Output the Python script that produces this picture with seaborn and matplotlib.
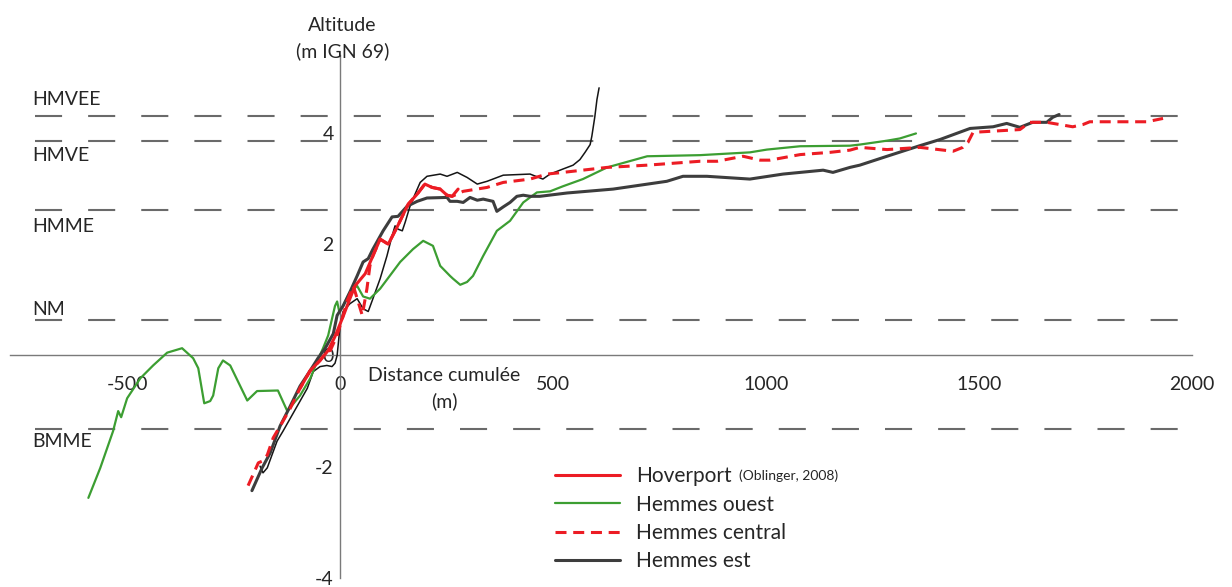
import numpy as np
import pandas as pd
import seaborn as sns
import matplotlib.pyplot as plt
from matplotlib.lines import Line2D

# Reference tide levels (m IGN 69)
level_names = ["HMVEE", "HMVE", "HMME", "NM", "BMME"]
level_values = [4.31, 3.86, 2.62, 0.63, -1.33]
# where each level name sits (above / below its line)
level_label_y = [4.60, 3.60, 2.31, 0.82, -1.54]

x_ticks = [-500, 0, 500, 1000, 1500, 2000]
y_ticks = [-4, -2, 0, 2, 4]

# Hoverport (Oblinger, 2008)
x_hov = [-94, -70, -47, -28, -12, 7, 23, 35, 59, 77, 94, 113, 134, 160, 181, 199, 216, 235, 251, 263, 277]
y_hov = [-0.59, -0.27, -0.09, 0.09, 0.34, 0.70, 1.02, 1.25, 1.47, 1.79, 2.09, 2.00, 2.31, 2.72, 2.90, 3.08,
         3.02, 2.99, 2.88, 2.86, 2.99]

# Hemmes ouest
x_ouest = [-591, -563, -533, -521, -514, -500, -469, -439, -406, -371, -345, -333, -319, -305, -298, -286,
           -275, -258, -218, -195, -146, -124, -94, -70, -54, -40, -28, -19, -12, -7, -2, 7, 23, 40, 54, 70,
           94, 141, 171, 195, 218, 235, 258, 265, 282, 298, 312, 336, 368, 399, 430, 462, 493, 523, 570, 627,
           721, 845, 962, 1002, 1080, 1197, 1220, 1284, 1314, 1352]
y_ouest = [-2.56, -2.02, -1.36, -1.00, -1.11, -0.77, -0.41, -0.18, 0.05, 0.13, -0.05, -0.23, -0.86, -0.82,
           -0.72, -0.23, -0.09, -0.18, -0.81, -0.64, -0.63, -1.00, -0.72, -0.41, -0.11, 0.13, 0.36, 0.66,
           0.89, 0.97, 0.79, 0.89, 1.14, 1.25, 1.06, 1.02, 1.20, 1.68, 1.91, 2.06, 1.97, 1.61, 1.43, 1.38,
           1.27, 1.32, 1.43, 1.79, 2.24, 2.42, 2.75, 2.93, 2.95, 3.04, 3.17, 3.38, 3.58, 3.60, 3.65, 3.70,
           3.76, 3.77, 3.79, 3.86, 3.90, 3.99]

# Hemmes central
x_central = [-216, -192, -183, -171, -157, -134, -117, -94, -70, -47, -31, -23, -7, 5, 16, 31, 52, 63, 70, 77,
             94, 113, 134, 160, 181, 199, 216, 235, 251, 263, 289, 345, 383, 446, 486, 523, 627, 721, 845, 885,
             946, 986, 1009, 1080, 1150, 1197, 1220, 1284, 1361, 1439, 1462, 1474, 1486, 1596, 1619, 1659,
             1720, 1744, 1760, 1894, 1932]
y_central = [-2.34, -1.93, -1.90, -1.79, -1.48, -1.18, -0.95, -0.59, -0.27, -0.09, 0.07, 0.09, 0.36, 0.66,
             0.97, 1.25, 0.72, 1.20, 1.61, 1.79, 2.09, 2.00, 2.31, 2.72, 2.90, 3.08, 3.02, 2.99, 2.88, 2.86,
             2.95, 3.02, 3.11, 3.17, 3.26, 3.29, 3.38, 3.42, 3.49, 3.49, 3.58, 3.51, 3.51, 3.61, 3.65, 3.69,
             3.74, 3.70, 3.74, 3.67, 3.74, 3.83, 4.01, 4.06, 4.19, 4.19, 4.11, 4.15, 4.20, 4.20, 4.26]

# Hemmes est
x_est = [-207, -183, -164, -141, -117, -94, -70, -52, -35, -16, -7, 7, 23, 40, 54, 66, 77, 101, 122, 136,
         157, 181, 204, 251, 258, 275, 289, 305, 322, 336, 359, 368, 383, 399, 415, 430, 446, 469, 533, 641,
         767, 805, 861, 962, 1040, 1134, 1157, 1197, 1220, 1284, 1361, 1408, 1479, 1533, 1565, 1596, 1626,
         1659, 1673, 1688]
y_est = [-2.43, -2.02, -1.75, -1.27, -0.91, -0.55, -0.27, -0.05, 0.13, 0.39, 0.72, 0.89, 1.14, 1.43, 1.68,
         1.74, 1.91, 2.24, 2.49, 2.50, 2.68, 2.77, 2.83, 2.84, 2.77, 2.77, 2.75, 2.84, 2.79, 2.81, 2.77, 2.59,
         2.67, 2.75, 2.86, 2.88, 2.86, 2.86, 2.92, 2.99, 3.13, 3.22, 3.22, 3.17, 3.26, 3.33, 3.29, 3.38, 3.42,
         3.58, 3.77, 3.88, 4.08, 4.11, 4.17, 4.10, 4.19, 4.19, 4.28, 4.33]

# extra thin black profile (not in the legend)
x_thin = [-188, -181, -171, -160, -148, -134, -117, -94, -77, -63, -47, -31, -19, -12, -7, 0, 7, 23, 40, 54,
          66, 77, 94, 110, 122, 129, 136, 146, 153, 164, 176, 188, 204, 235, 251, 275, 298, 322, 345, 383,
          446, 476, 493, 523, 547, 563, 575, 587, 591, 598, 603, 608]
y_thin = [-1.99, -2.11, -2.02, -1.79, -1.54, -1.36, -1.13, -0.82, -0.59, -0.29, -0.20, -0.18, -0.20, -0.14,
          0.00, 0.54, 0.79, 0.93, 1.02, 0.84, 0.79, 1.02, 1.38, 1.79, 2.15, 2.33, 2.27, 2.24, 2.40, 2.68,
          2.90, 3.11, 3.22, 3.26, 3.22, 3.29, 3.20, 3.08, 3.13, 3.24, 3.26, 3.17, 3.26, 3.35, 3.42, 3.52,
          3.65, 3.79, 3.94, 4.29, 4.60, 4.81]

sns.set_style("white")
plt.rcParams['font.family'] = ['Lato', 'DejaVu Sans']
plt.rcParams['axes.unicode_minus'] = False

fig = plt.figure(figsize=(12.32, 5.87), dpi=100)
ax = fig.add_axes([10 / 1232, 9 / 587, 1182 / 1232, 523 / 587])

# dashed reference levels
ax.hlines(level_values, -716, 1975, colors='#6a6a6a', lw=1.5, linestyles=(0, (13, 12.5)), zorder=1)
for name, ly in zip(level_names, level_label_y):
    ax.text(-722, ly, name, fontsize=14, va='center', ha='left')

red = '#ec1c24'
sns.lineplot(x=x_thin, y=y_thin, sort=False, estimator=None, ax=ax, color='#151515', lw=1.1, zorder=3)
sns.lineplot(x=x_ouest, y=y_ouest, sort=False, estimator=None, ax=ax, color='#3c9e32', lw=1.6, zorder=3)
sns.lineplot(x=x_est, y=y_est, sort=False, estimator=None, ax=ax, color='#3d3d3d', lw=2.2, zorder=4)
sns.lineplot(x=x_hov, y=y_hov, sort=False, estimator=None, ax=ax, color=red, lw=2.2, zorder=5)
sns.lineplot(x=x_central, y=y_central, sort=False, estimator=None, ax=ax, color=red, lw=2.2,
             linestyle=(0, (3.6, 2.2)), zorder=5)

ax.set_xlim(-775, 2000)
ax.set_ylim(-4, 5.4)
ax.set_xticks(x_ticks)
ax.set_yticks(y_ticks)
ax.set_xlabel('')
ax.set_ylabel('')

# Excel-like axes crossing at the origin
for side in ['top', 'right']:
    ax.spines[side].set_visible(False)
ax.spines['left'].set_position(('data', 0))
ax.spines['bottom'].set_position(('data', 0))
for side in ['left', 'bottom']:
    ax.spines[side].set_color('#7a7a7a')
    ax.spines[side].set_linewidth(1.0)
ax.tick_params(axis='x', direction='in', length=4, color='#c8c8c8', labelsize=14, pad=15)
ax.tick_params(axis='y', direction='out', length=4, color='#7a7a7a', labelsize=14, pad=0.5)
ax.set_facecolor('none')

ax.text(5, 5.70, 'Altitude\n(m IGN 69)', fontsize=14, ha='center', va='center', linespacing=1.55,
        clip_on=False)
ax.text(245, -0.59, 'Distance cumulée\n(m)', fontsize=14, ha='center', va='center', linespacing=1.55)

# legend
handles = [Line2D([], [], color=red, lw=2.2),
           Line2D([], [], color='#3c9e32', lw=1.6),
           Line2D([], [], color=red, lw=2.2, linestyle=(0, (3.6, 2.2))),
           Line2D([], [], color='#3d3d3d', lw=2.2)]
labels = ['Hoverport', 'Hemmes ouest', 'Hemmes central', 'Hemmes est']
fig.legend(handles, labels, loc='upper left', bbox_to_anchor=(545 / 1232, 1 - 456 / 587),
           frameon=False, fontsize=15, borderpad=0, handlelength=3.1, handletextpad=0.75,
           labelspacing=0.40)
fig.text(739 / 1232, 1 - 480 / 587, '(Oblinger, 2008)', fontsize=10, va='baseline', ha='left')

plt.savefig('out.png', dpi=100)
